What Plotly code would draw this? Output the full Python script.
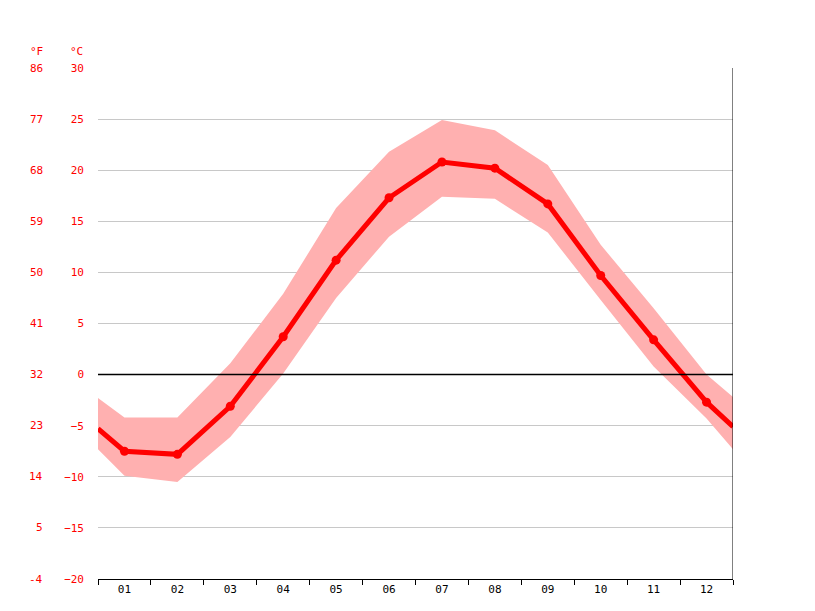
import plotly.graph_objects as go

months = ["01","02","03","04","05","06","07","08","09","10","11","12"]
x_pos = [0.5,1,2,3,4,5,6,7,8,9,10,11,12,12.5]
t_mean = [-5.3,-7.5,-7.8,-3.1,3.7,11.2,17.3,20.8,20.2,16.7,9.7,3.4,-2.7,-5.1]
t_max = [-2.3,-4.2,-4.2,1.1,7.9,16.3,21.8,24.9,23.9,20.5,12.7,6.5,0.0,-2.2]
t_min = [-7.3,-9.9,-10.5,-6.1,0.1,7.5,13.5,17.4,17.2,13.9,7.3,0.8,-4.3,-7.3]
c_ticks = [30,25,20,15,10,5,0,-5,-10,-15,-20]
f_labels = ["86","77","68","59","50","41","32","23","14","5","-4"]
c_labels = ["30","25","20","15","10","5","0","\u22125","\u221210","\u221215","\u221220"]

red = "#ff0000"
fnt = dict(family="DejaVu Sans Mono", size=11, color=red)
fx = (37 - 90) / 635
cx = (77 - 90) / 635
hy = 1 + 25 / 511

fig = go.Figure()
fig.add_trace(go.Scatter(x=x_pos, y=t_max, mode="lines", line=dict(width=0), hoverinfo="skip"))
fig.add_trace(go.Scatter(x=x_pos, y=t_min, mode="lines", line=dict(width=0), fill="tonexty",
                         fillcolor="rgba(255,176,176,1)", hoverinfo="skip"))
fig.add_trace(go.Scatter(x=x_pos, y=t_mean, mode="lines", line=dict(color=red, width=5)))
fig.add_trace(go.Scatter(x=x_pos[1:-1], y=t_mean[1:-1], mode="markers", marker=dict(color=red, size=9)))

for v, l in zip(c_ticks, f_labels):
    fig.add_annotation(x=fx, xref="paper", y=v, yref="y", text=l, showarrow=False,
                       xanchor="right", font=fnt)
fig.add_annotation(x=fx, xref="paper", y=hy, yref="paper", text="°F",
                   showarrow=False, xanchor="right", font=fnt)
fig.add_annotation(x=cx, xref="paper", y=hy, yref="paper", text="°C", showarrow=False,
                   xanchor="right", font=fnt)

fig.add_shape(type="line", x0=12.5, x1=12.5, y0=-20, y1=32, xref="x", yref="y",
              line=dict(color="black", width=1))
fig.add_shape(type="line", x0=0.5, x1=12.5, y0=0, y1=0, xref="x", yref="y",
              line=dict(color="black", width=1.5))

fig.update_layout(
    width=815, height=611, margin=dict(l=90, r=90, t=60, b=40, autoexpand=False),
    plot_bgcolor="white", paper_bgcolor="white", showlegend=False,
    xaxis=dict(range=[0.5,12.5], tickvals=list(range(1,13)), ticktext=months, showgrid=False,
               ticks="", tickfont=dict(family="DejaVu Sans Mono", size=11, color="black"),
               showline=True, linecolor="black", linewidth=1,
               minor=dict(tickvals=[i+0.5 for i in range(13)], ticks="outside", ticklen=5,
                          tickcolor="black", showgrid=False), zeroline=False),
    yaxis=dict(range=[-20,30], tickvals=c_ticks, ticktext=c_labels, tickfont=fnt,
               gridcolor="#c8c8c8", zeroline=False, ticklabelstandoff=13, showline=False),
)
fig.write_html("out.html")
